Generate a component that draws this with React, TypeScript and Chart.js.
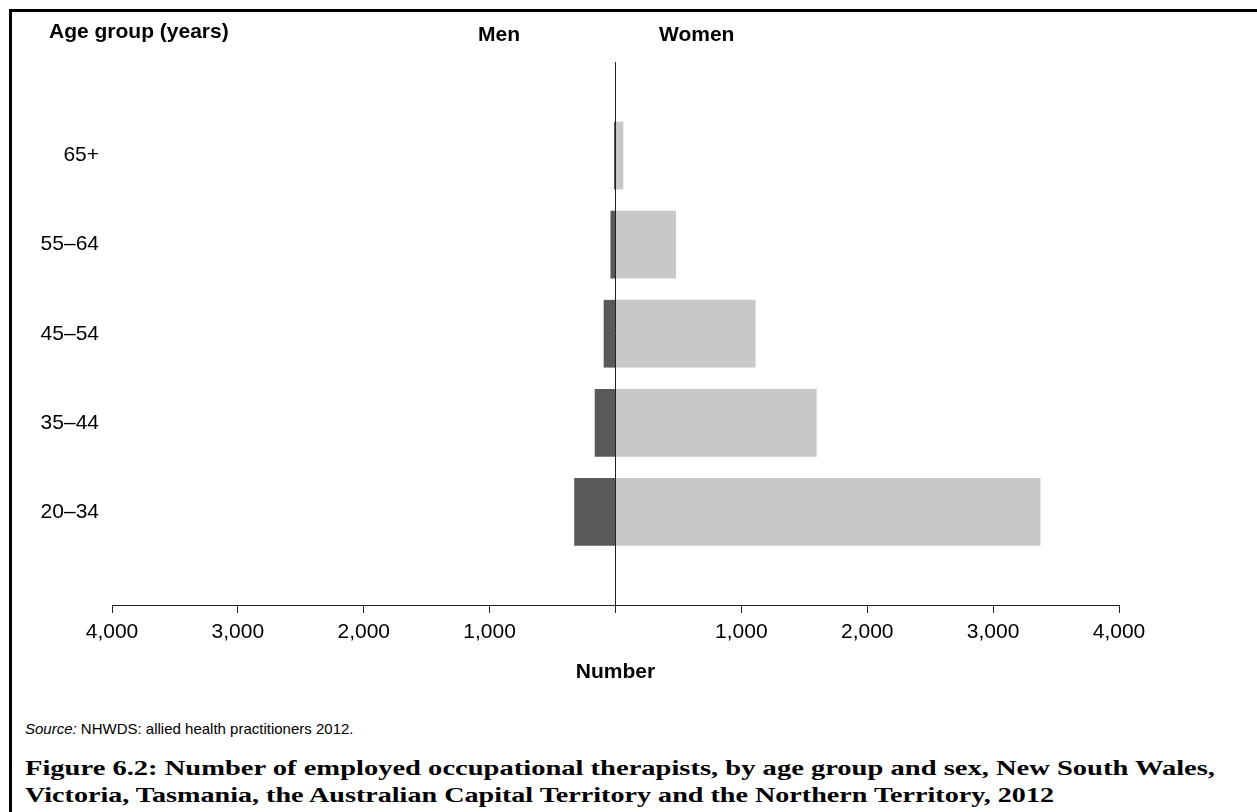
import React, { useEffect, useLayoutEffect, useRef } from 'react';
import { Chart, registerables } from 'chart.js';

Chart.register(...registerables);

// ---- Data ----
const ageGroups = ['20–34', '35–44', '45–54', '55–64', '65+'];
const menValues = [328, 165, 94, 40, 12];
const womenValues = [3376, 1598, 1113, 481, 62];
const xTickValues = [-4000, -3000, -2000, -1000, 0, 1000, 2000, 3000, 4000];

const SANS = '"Liberation Sans", Arial, Helvetica, sans-serif';
const SERIF = '"Liberation Serif", "Times New Roman", serif';

type FitProps = { text: string; left: number; top: number; width: number; size: number };

function FitLine({ text, left, top, width, size }: FitProps) {
  const ref = useRef<HTMLSpanElement>(null);
  useLayoutEffect(() => {
    const el = ref.current;
    if (!el) return;
    el.style.transform = 'none';
    const w = el.getBoundingClientRect().width;
    if (w > 0) el.style.transform = `scaleX(${width / w})`;
  }, [text, width]);
  return (
    <span
      ref={ref}
      style={{
        position: 'absolute',
        left,
        top,
        whiteSpace: 'nowrap',
        font: `bold ${size}px ${SERIF}`,
        lineHeight: `${size}px`,
        transformOrigin: 'left top',
        color: '#000',
      }}
    >
      {text}
    </span>
  );
}

export default function App() {
  const canvasRef = useRef<HTMLCanvasElement>(null);

  useEffect(() => {
    const canvas = canvasRef.current;
    if (!canvas) return;
    const chart = new Chart(canvas, {
      type: 'bar',
      data: {
        datasets: [
          {
            label: 'Men',
            data: menValues.map((v, i) => ({ x: -v, y: i })),
            backgroundColor: '#595959',
            borderWidth: 0,
          },
          {
            label: 'Women',
            data: womenValues.map((v, i) => ({ x: v, y: i })),
            backgroundColor: '#c8c8c8',
            borderWidth: 0,
          },
        ],
      },
      options: {
        indexAxis: 'y',
        responsive: false,
        animation: false,
        events: [],
        layout: { padding: { left: 0, right: 138, top: 62, bottom: 0 } },
        datasets: { bar: { barPercentage: 0.76, categoryPercentage: 1 } },
        plugins: {
          legend: { display: false },
          tooltip: { enabled: false },
          title: { display: false },
        },
        scales: {
          x: {
            type: 'linear',
            min: -4000,
            max: 4000,
            stacked: true,
            offset: false,
            position: 'bottom',
            z: 1,
            afterBuildTicks: (s: any) => {
              s.ticks = xTickValues.map((v) => ({ value: v }));
            },
            afterFit: (s: any) => {
              s.height = 115;
            },
            grid: {
              display: true,
              drawOnChartArea: true,
              drawTicks: true,
              offset: false,
              tickLength: 8,
              lineWidth: 1,
              color: (c: any) => (c.tick && c.tick.value === 0 ? '#222' : 'rgba(0,0,0,0)'),
              tickColor: '#222',
            },
            border: { display: true, color: '#222', width: 1 },
            ticks: {
              padding: 7,
              color: '#000',
              maxRotation: 0,
              autoSkip: false,
              font: { family: SANS, size: 21 },
              callback: (v: any) => (Number(v) === 0 ? '' : Math.abs(Number(v)).toLocaleString('en-US')),
            },
            title: {
              display: true,
              text: 'Number',
              color: '#000',
              font: { family: SANS, size: 21, weight: 'bold' },
              padding: { top: 0, bottom: 35 },
            },
          },
          y: {
            type: 'linear',
            min: -1.045,
            max: 5.05,
            stacked: true,
            offset: false,
            afterBuildTicks: (s: any) => {
              s.ticks = ageGroups.map((_, i) => ({ value: i }));
            },
            afterFit: (s: any) => {
              s.width = 112;
            },
            grid: { display: false, drawTicks: false, offset: false },
            border: { display: false },
            ticks: {
              padding: 13,
              color: '#000',
              font: { family: SANS, size: 21 },
              callback: (v: any) => ageGroups[Number(v)] ?? '',
            },
          },
        },
      },
    } as any);
    return () => chart.destroy();
  }, []);

  const headStyle: React.CSSProperties = {
    position: 'absolute',
    font: `bold 21px ${SANS}`,
    lineHeight: '21px',
    color: '#000',
    whiteSpace: 'nowrap',
  };

  return (
    <div
      style={{
        position: 'absolute',
        left: 0,
        top: 0,
        width: 1257,
        height: 812,
        overflow: 'hidden',
        background: '#fff',
      }}
    >
      <div
        style={{
          position: 'absolute',
          left: 9,
          top: 9,
          width: 1400,
          height: 1000,
          borderTop: '3px solid #000',
          borderLeft: '3px solid #000',
        }}
      />
      <canvas
        ref={canvasRef}
        width={1257}
        height={720}
        style={{ position: 'absolute', left: 0, top: 0, width: 1257, height: 720 }}
      />
      <div style={{ ...headStyle, left: 49, top: 20 }}>Age group (years)</div>
      <div style={{ ...headStyle, left: 478, top: 23 }}>Men</div>
      <div style={{ ...headStyle, left: 659, top: 23 }}>Women</div>
      <div
        style={{
          position: 'absolute',
          left: 25,
          top: 721,
          font: `15px ${SANS}`,
          lineHeight: '16px',
          color: '#000',
          whiteSpace: 'nowrap',
        }}
      >
        <i>Source:</i> NHWDS: allied health practitioners 2012.
      </div>
      <FitLine
        text="Figure 6.2: Number of employed occupational therapists, by age group and sex, New South Wales,"
        left={25}
        top={757}
        width={1190}
        size={22}
      />
      <FitLine
        text="Victoria, Tasmania, the Australian Capital Territory and the Northern Territory, 2012"
        left={25}
        top={784}
        width={1029}
        size={22}
      />
    </div>
  );
}
